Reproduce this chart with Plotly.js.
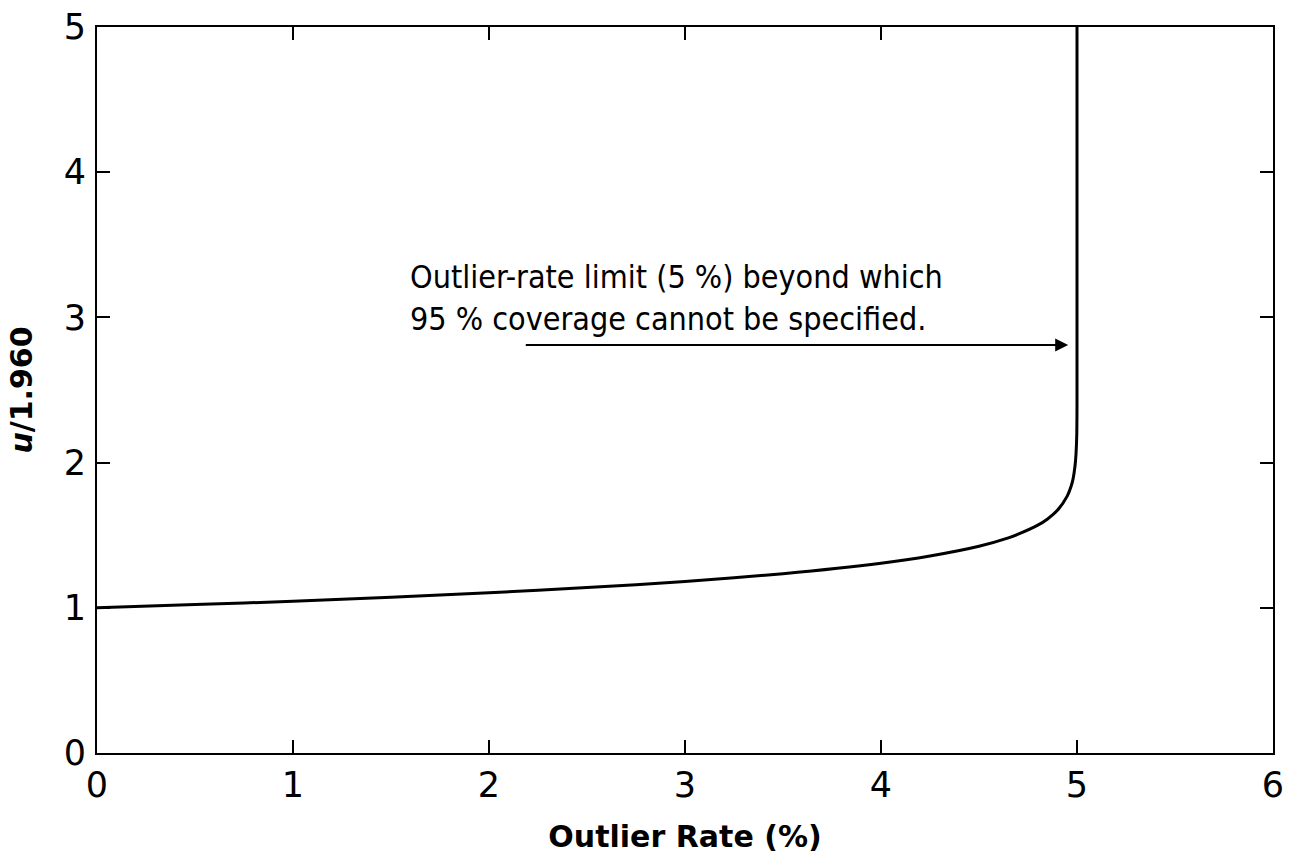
<!DOCTYPE html>
<html>
<head>
<meta charset="utf-8">
<script src="https://cdn.plot.ly/plotly-3.0.1.min.js"></script>
<style>html,body{margin:0;padding:0;background:#fff;}#chart{width:1290px;height:854px;}</style>
</head>
<body>
<div id="chart"></div>
<script>
// Outlier rate (%) and u/1.960
const outlierRate = [0, 0.5, 1, 1.5, 2, 2.5, 3, 3.5, 4, 4.25, 4.5, 4.65, 4.7, 4.8, 4.85, 4.9, 4.95, 4.97, 4.98, 4.99, 4.995, 4.999, 5.0, 5.0];
const uRatio      = [1.000, 1.022, 1.045, 1.073, 1.103, 1.139, 1.181, 1.235, 1.307, 1.357, 1.424, 1.482, 1.507, 1.569, 1.612, 1.671, 1.769, 1.837, 1.888, 1.978, 2.06, 2.2, 2.4, 5.0];
const xTicks = [0, 1, 2, 3, 4, 5, 6];
const yTicks = [0, 1, 2, 3, 4, 5];
const noteLines = ["Outlier-rate limit (5 %) beyond which", "95 % coverage cannot be specified."];
const arrowFrom = [2.18, 2.81];
const arrowTo = [4.955, 2.81];
const noteAnchor = [1.585, 2.845];

const TICKFONT = "'DejaVu Sans', sans-serif";
const NOTEFONT = "'DejaVu Sans Condensed', 'DejaVu Sans', sans-serif";
const TITLEFONT = "'DejaVu Sans', sans-serif";

const trace = {
  x: outlierRate, y: uRatio, type: 'scatter', mode: 'lines',
  line: {color: '#000', width: 3, shape: 'spline', smoothing: 0.6},
  hoverinfo: 'skip'
};

const axisCommon = {
  showgrid: false, zeroline: false, showline: true, mirror: 'ticks',
  linecolor: '#000', linewidth: 2, ticks: 'inside', ticklen: 13, tickwidth: 2, tickcolor: '#000',
  tickfont: {family: TICKFONT, size: 35, color: '#000'}
};

const layout = {
  width: 1290, height: 854,
  margin: {l: 97, r: 17, t: 27, b: 101},
  paper_bgcolor: '#fff', plot_bgcolor: '#fff',
  showlegend: false,
  xaxis: Object.assign({}, axisCommon, {
    range: [0, 6], tickvals: xTicks, ticktext: xTicks.map(String),
    title: {text: '<b>Outlier Rate (%)</b>', font: {family: TITLEFONT, size: 30, color: '#000'}, standoff: 22}
  }),
  yaxis: Object.assign({}, axisCommon, {
    range: [0, 5], tickvals: yTicks, ticktext: yTicks.map(String),
    ticklabelstandoff: 2,
    title: {text: '<b><i>u</i>/1.960</b>', font: {family: TITLEFONT, size: 30, color: '#000'}, standoff: 22}
  }),
  annotations: [
    {
      x: arrowTo[0], y: arrowTo[1], xref: 'x', yref: 'y',
      ax: arrowFrom[0], ay: arrowFrom[1], axref: 'x', ayref: 'y',
      showarrow: true, arrowhead: 2, arrowsize: 1.3, arrowwidth: 2, arrowcolor: '#000', text: ''
    },
    {
      x: noteAnchor[0], y: noteAnchor[1], xref: 'x', yref: 'y',
      xanchor: 'left', yanchor: 'bottom', align: 'left', showarrow: false,
      text: noteLines.join('<br>'),
      font: {family: NOTEFONT, size: 32, color: '#000'}
    }
  ]
};

Plotly.newPlot('chart', [trace], layout, {displayModeBar: false, staticPlot: true});
</script>
</body>
</html>
